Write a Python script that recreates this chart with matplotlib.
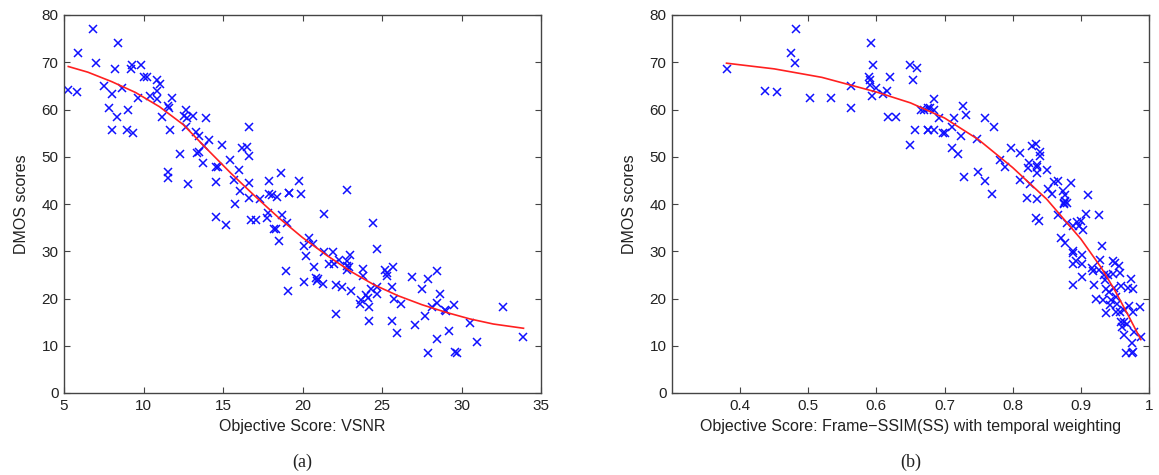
import matplotlib
matplotlib.use("Agg")
import matplotlib.pyplot as plt

plt.rcParams['font.family'] = ['Liberation Sans', 'DejaVu Sans']

# ---------------- Panel (a): VSNR ----------------
vsnr_x = [6.85, 8.42, 5.90, 7.00, 5.27, 5.80, 8.21, 9.27, 9.22, 9.85, 10.06, 10.20,
          7.52, 8.63, 8.00, 7.86, 9.05, 8.32, 8.00, 8.99, 9.37, 9.68, 10.88, 11.05,
          10.84, 10.42, 10.84, 11.78, 11.53, 11.60, 11.15, 11.68, 12.69, 12.56, 12.76,
          13.09, 13.93, 12.69, 13.30, 13.52, 14.09, 13.82, 14.94, 12.31, 13.36, 13.47,
          13.74, 14.58, 14.66, 15.46, 16.19, 16.51, 16.61, 16.61, 16.03, 11.51, 11.57,
          12.79, 14.55, 15.67, 16.09, 16.61, 16.61, 15.77, 17.92, 18.67, 17.35, 17.92,
          18.10, 18.40, 19.13,
          14.58, 15.19, 16.76, 17.08, 17.77, 17.81, 18.19, 18.36, 18.55, 18.72, 19.00,
          18.97, 19.07,
          21.34, 24.45, 24.70, 20.08, 20.39, 20.67, 20.19, 21.34, 21.93, 22.29, 21.66,
          21.95, 22.98, 22.81, 22.77, 22.90, 22.81, 20.71, 20.88, 21.00, 20.92, 21.30,
          20.08, 22.08, 22.50, 23.07, 22.08, 23.80, 23.80, 24.28, 23.99, 24.11, 23.65,
          23.60, 24.17, 24.17, 24.70, 24.66, 25.19, 25.30, 25.34, 25.71, 25.60, 25.75,
          26.17, 25.60, 25.92, 26.86, 27.91, 28.48, 27.50, 28.63, 28.48, 28.17, 28.94,
          29.00, 29.53, 27.69, 27.06, 28.48, 29.22, 27.91, 29.57, 29.70, 30.52, 30.96,
          32.64, 33.88, 19.81, 19.18, 19.91, 22.81]
vsnr_y = [77.0, 74.1, 71.9, 69.8, 64.1, 63.6, 68.5, 69.4, 68.5, 69.4, 66.9, 66.8,
          65.0, 64.6, 63.2, 60.3, 60.0, 58.5, 55.7, 55.7, 55.0, 62.5, 66.3, 65.4,
          63.9, 62.9, 62.2, 62.4, 60.8, 60.4, 58.5, 55.7, 60.0, 58.7, 58.3,
          58.7, 58.3, 56.2, 55.3, 54.4, 53.6, 52.3, 52.5, 50.5, 50.7, 51.1,
          48.7, 47.9, 47.8, 49.4, 51.9, 52.1, 56.2, 50.2, 47.2, 46.7, 45.5,
          44.3, 44.6, 45.0, 42.7, 44.5, 41.3, 40.0, 44.8, 46.5, 41.0, 42.2,
          41.9, 41.5, 42.4,
          37.3, 35.6, 36.6, 36.6, 37.1, 38.1, 34.7, 34.7, 32.1, 37.6, 36.0,
          25.9, 21.5,
          37.8, 35.9, 30.5, 31.1, 32.8, 31.5, 28.9, 29.8, 29.8, 28.2, 27.2,
          27.3, 29.3, 27.9, 26.8, 26.7, 26.1, 26.6, 24.3, 24.2, 23.6, 23.1,
          23.4, 22.9, 22.4, 21.5, 16.8, 26.3, 24.8, 22.0, 20.8, 20.1, 19.7,
          18.9, 18.3, 15.3, 22.4, 21.0, 26.1, 25.4, 24.7, 26.6, 22.4, 19.9,
          18.8, 15.3, 12.7, 24.5, 24.2, 25.9, 22.0, 20.9, 19.0, 18.2, 17.5,
          17.4, 18.7, 16.2, 14.3, 11.5, 13.2, 8.4, 8.6, 8.5, 14.8, 10.7,
          18.1, 11.9, 44.8, 42.4, 42.2, 43.0]

# fitted curve
vsnr_fit_x = [5.27, 6.5, 8.0, 9.5, 11.0, 12.5, 14.0, 15.5, 17.0, 18.5, 20.0,
              21.5, 23.0, 24.5, 26.0, 27.5, 29.0, 30.5, 32.0, 33.9]
vsnr_fit_y = [69.1, 67.9, 65.9, 63.6, 60.6, 56.8, 51.6, 46.5, 41.7, 37.1, 32.9,
              29.2, 25.8, 22.9, 20.6, 18.7, 17.1, 15.7, 14.6, 13.7]

# ---------------- Panel (b): Frame-SSIM ----------------
ssim_x = [0.380, 0.482, 0.474, 0.480, 0.437, 0.454, 0.503, 0.533, 0.562, 0.563,
          0.592, 0.595, 0.589, 0.590, 0.591, 0.600, 0.594, 0.610, 0.616, 0.620,
          0.617, 0.628, 0.649, 0.659, 0.653, 0.666, 0.675, 0.656, 0.675, 0.649,
          0.685, 0.670, 0.679, 0.685, 0.692, 0.675, 0.684, 0.697, 0.700, 0.711,
          0.714, 0.727, 0.731, 0.724, 0.711, 0.720, 0.728, 0.749, 0.759, 0.747,
          0.759, 0.772, 0.769, 0.782, 0.788, 0.797, 0.810, 0.810, 0.821, 0.835,
          0.822, 0.824, 0.829, 0.834, 0.840, 0.840, 0.835, 0.835, 0.835, 0.850,
          0.826, 0.852, 0.860, 0.867, 0.858, 0.874, 0.876, 0.885, 0.875, 0.876,
          0.911,
          0.834, 0.839, 0.866, 0.875, 0.879, 0.880, 0.889, 0.895, 0.898, 0.900,
          0.903, 0.907, 0.926, 0.871, 0.876, 0.888, 0.889, 0.901, 0.888, 0.893,
          0.902, 0.902, 0.889, 0.931, 0.928, 0.917, 0.918, 0.927, 0.934, 0.936,
          0.947, 0.950, 0.956, 0.957, 0.947, 0.940, 0.920, 0.937, 0.942, 0.948,
          0.959, 0.974, 0.969, 0.976, 0.922, 0.932, 0.944, 0.951, 0.953, 0.943,
          0.937, 0.951, 0.957, 0.963, 0.970, 0.987, 0.976, 0.959, 0.963, 0.961,
          0.968, 0.964, 0.978, 0.975, 0.988, 0.966, 0.975, 0.977]
ssim_y = [68.5, 77.0, 71.9, 69.8, 63.9, 63.6, 62.4, 62.5, 60.4, 65.0,
          74.1, 69.4, 66.9, 66.2, 65.1, 64.5, 62.9, 63.2, 63.9, 66.8,
          58.5, 58.5, 69.4, 68.7, 66.3, 60.0, 60.4, 55.7, 55.7, 52.4,
          62.2, 60.0, 60.4, 60.0, 58.3, 55.7, 55.7, 55.0, 55.1, 56.2,
          58.3, 60.8, 58.8, 54.4, 51.9, 50.6, 45.7, 46.7, 44.8, 53.7,
          58.1, 56.2, 42.2, 49.3, 47.9, 51.9, 50.7, 45.0, 41.3, 41.0,
          47.7, 48.7, 52.3, 52.6, 51.0, 50.2, 48.2, 47.8, 46.6, 47.1,
          44.3, 43.1, 44.6, 44.8, 42.2, 42.7, 42.0, 44.5, 40.3, 40.6,
          41.8,
          37.1, 36.4, 37.6, 39.9, 40.3, 36.0, 35.3, 36.2, 35.3, 36.5,
          34.6, 37.8, 37.6, 32.8, 31.8, 30.0, 29.7, 29.3, 27.2, 27.9,
          27.2, 24.5, 22.9, 31.1, 28.2, 26.5, 25.8, 26.0, 25.0, 23.9,
          27.9, 27.6, 26.8, 25.5, 25.2, 25.0, 22.9, 22.0, 21.4, 22.3,
          22.6, 24.1, 22.3, 22.1, 19.9, 19.7, 19.7, 20.4, 18.9, 18.7,
          16.9, 17.2, 17.2, 17.5, 18.4, 18.2, 17.1, 15.1, 15.1, 13.9,
          14.5, 12.3, 13.0, 10.5, 11.9, 8.4, 8.5, 8.6]

# fitted curve
ssim_fit_x = [0.380, 0.450, 0.520, 0.600, 0.650, 0.700, 0.750, 0.800, 0.850,
              0.900, 0.930, 0.950, 0.970, 0.988]
ssim_fit_y = [69.8, 68.6, 66.8, 63.7, 61.4, 58.2, 53.6, 47.7, 41.0,
              32.6, 26.5, 21.7, 16.3, 11.3]

xlabels = ['Objective Score: VSNR',
           'Objective Score: Frame\u2212SSIM(SS) with temporal weighting']
captions = ['(a)', '(b)']

W, H = 1159, 475
fig = plt.figure(figsize=(W / 100, H / 100), dpi=100)
axw, axh = 477 / W, 378 / H
bottom = (H - 393) / H
ax_a = fig.add_axes([64 / W, bottom, axw, axh])
ax_b = fig.add_axes([672 / W, bottom, axw, axh])

spine_col = '#444444'
for ax, xs, ys, fx, fy, xl in [(ax_a, vsnr_x, vsnr_y, vsnr_fit_x, vsnr_fit_y, xlabels[0]),
                               (ax_b, ssim_x, ssim_y, ssim_fit_x, ssim_fit_y, xlabels[1])]:
    ax.plot(xs, ys, 'x', color='#1010ff', markersize=5.5, markeredgewidth=1.1,
            linestyle='none')
    ax.plot(fx, fy, '-', color='#ff2020', linewidth=1.2)
    ax.set_ylim(0, 80)
    ax.set_yticks(range(0, 81, 10))
    ax.set_xlabel(xl, fontsize=11.5, color='#222222', labelpad=5)
    ax.set_ylabel('DMOS scores', fontsize=11.5, color='#222222', labelpad=9)
    ax.tick_params(direction='in', top=True, right=True, length=4, width=0.8,
                   color=spine_col, labelsize=11, labelcolor='#222222', pad=4)
    for s in ax.spines.values():
        s.set_color(spine_col)
        s.set_linewidth(1.0)

ax_a.set_xlim(5, 35)
ax_a.set_xticks(range(5, 36, 5))
ax_b.set_xlim(0.3, 1.0)
ax_b.set_xticks([0.4, 0.5, 0.6, 0.7, 0.8, 0.9, 1.0])
ax_b.set_xticklabels(['0.4', '0.5', '0.6', '0.7', '0.8', '0.9', '1'])

fig.text((64 + 477 / 2) / W, 1 - 462 / H, captions[0], ha='center', va='center',
         fontsize=13, family='Liberation Serif', color='#222222')
fig.text((672 + 477 / 2) / W, 1 - 462 / H, captions[1], ha='center', va='center',
         fontsize=13, family='Liberation Serif', color='#222222')

fig.savefig('out.png', dpi=100)
